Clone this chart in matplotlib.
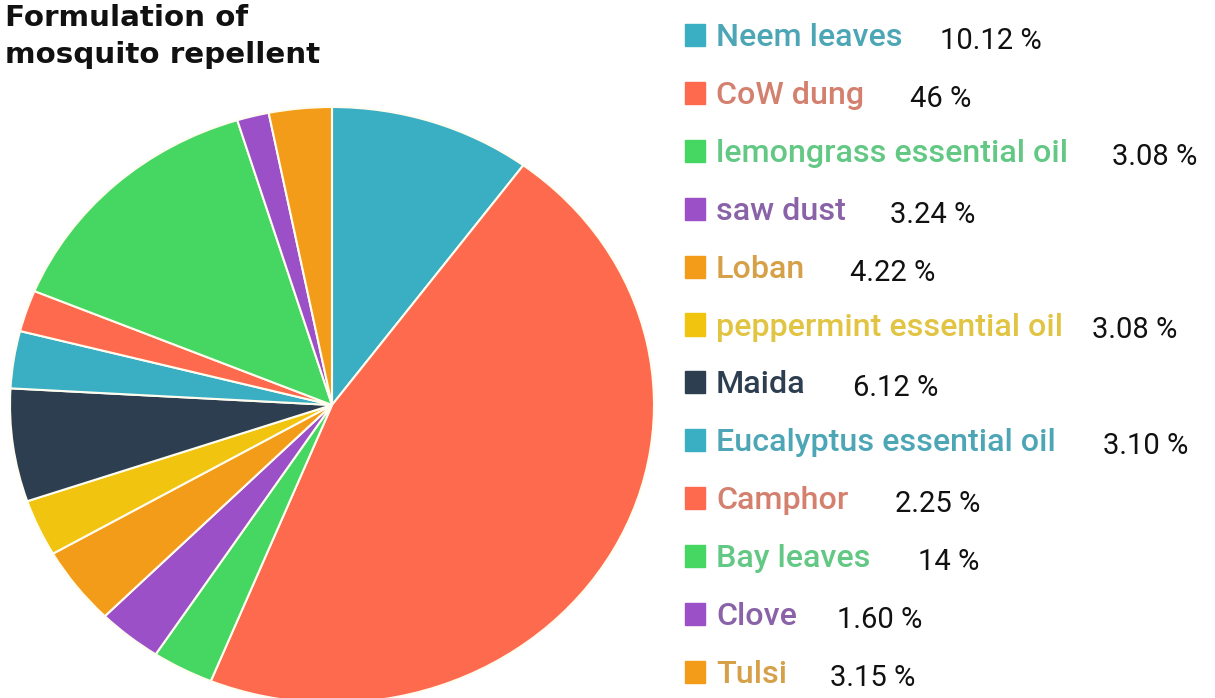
import matplotlib
matplotlib.use("Agg")
import matplotlib.pyplot as plt
from matplotlib.patches import Rectangle

# ingredient shares (%)
ingredients = ["Neem leaves", "CoW dung", "lemongrass essential oil", "saw dust",
               "Loban", "peppermint essential oil", "Maida", "Eucalyptus essential oil",
               "Camphor", "Bay leaves", "Clove", "Tulsi"]
shares = [10.12, 46, 3.08, 3.24, 4.22, 3.08, 6.12, 3.10, 2.25, 14, 1.60, 3.15]
share_labels = ["10.12 %", "46 %", "3.08 %", "3.24 %", "4.22 %", "3.08 %",
                "6.12 %", "3.10 %", "2.25 %", "14 %", "1.60 %", "3.15 %"]

teal, red, green, purple = "#3AAEC3", "#FD6A4E", "#46D662", "#9B50C8"
orange, yellow, navy = "#F39C19", "#F1C40F", "#2C3E50"
colors = [teal, red, green, purple, orange, yellow, navy, teal, red, green, purple, orange]
text_colors = ["#4DA6B5", "#D4806E", "#62C884", "#8A62A8", "#D5A048", "#E2C443",
               "#2D3E50", "#4DA6B5", "#D4806E", "#62C884", "#8A62A8", "#D5A048"]

W, H = 1215, 698
fig = plt.figure(figsize=(W / 100, H / 100), dpi=100)

# pie is drawn slightly wider than tall
cx, cy, rx, ry = 332, 405, 322, 298
ax = fig.add_axes([(cx - rx) / W, (H - cy - ry) / H, 2 * rx / W, 2 * ry / H])
ax.pie(shares, colors=colors, startangle=90, counterclock=False, radius=1,
       wedgeprops=dict(edgecolor="#FFFDF0", linewidth=1.5, clip_on=False))
ax.set_aspect("auto")
ax.set_xlim(-1, 1)
ax.set_ylim(-1, 1)
ax.axis("off")

# title
fig.text(5 / W, 1 - 26 / H, "Formulation of", fontsize=21.2, fontweight="bold",
         family="DejaVu Sans", color="#111111", va="baseline")
fig.text(5 / W, 1 - 63 / H, "mosquito repellent", fontsize=21.2, fontweight="bold",
         family="DejaVu Sans", color="#111111", va="baseline")

# legend rows with values
value_x = [940, 910, 1112, 890, 850, 1092, 853, 1103, 895, 918, 837, 830]
for i, (name, lab) in enumerate(zip(ingredients, share_labels)):
    base = 46 + 57.9 * i
    fig.patches.append(Rectangle((685 / W, 1 - base / H), 20 / W, 22 / H,
                                 transform=fig.transFigure, color=colors[i]))
    fig.text(716 / W, 1 - base / H, name, fontsize=23.2, fontweight="medium",
             family=["Roboto", "DejaVu Sans"], color=text_colors[i], va="baseline")
    fig.text(value_x[i] / W, 1 - (base + 3) / H, lab, fontsize=21,
             family=["Roboto", "DejaVu Sans"], color="#111111", va="baseline")

fig.savefig("out.png", dpi=100)
